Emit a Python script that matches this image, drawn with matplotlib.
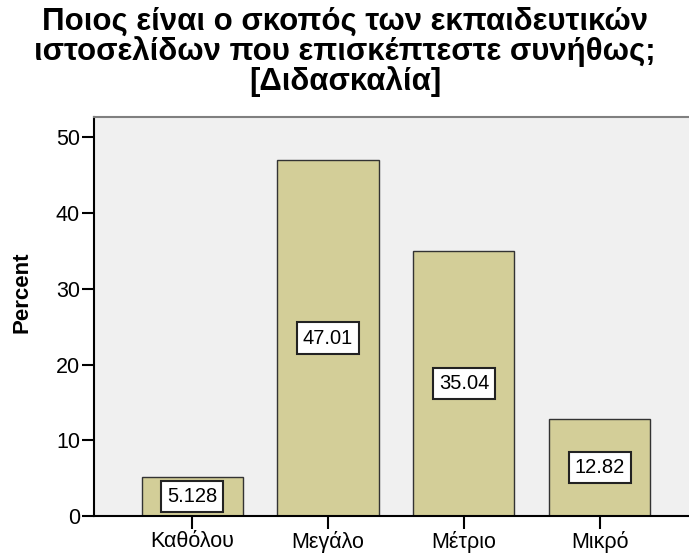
import matplotlib.pyplot as plt
import numpy as np

plt.rcParams['font.family'] = ['Liberation Sans', 'DejaVu Sans']

categories = ['Καθόλου', 'Μεγάλο', 'Μέτριο', 'Μικρό']
percent = [5.128, 47.01, 35.04, 12.82]
value_labels = ['5.128', '47.01', '35.04', '12.82']
title = 'Ποιος είναι ο σκοπός των εκπαιδευτικών\nιστοσελίδων που επισκέπτεστε συνήθως;\n[Διδασκαλία]'

fig = plt.figure(figsize=(6.89, 5.55), dpi=100)
W, H = 689, 555
ax = fig.add_axes([94 / W, 1 - 516 / H, (689 - 94) / W, (516 - 117) / H])
ax.set_facecolor('#f0f0f0')

x = np.arange(len(categories))
ax.bar(x, percent, width=0.744, color='#d3ce98', edgecolor='#333333', linewidth=1.0, zorder=2)
for xi, v, lab in zip(x, percent, value_labels):
    ax.text(xi, v / 2, lab, ha='center', va='center', fontsize=14.5, zorder=3,
            bbox=dict(boxstyle='square,pad=0.3', facecolor='white', edgecolor='#222222', linewidth=1.5))

ax.set_xlim(-0.722, 3.656)
ax.set_ylim(0, 52.7)
ax.set_yticks([0, 10, 20, 30, 40, 50])
ax.set_xticks(x)
ax.set_xticklabels(categories)
ax.tick_params(axis='y', length=9, width=1.5, labelsize=15.5, pad=1)
ax.tick_params(axis='x', length=9, width=1.5, labelsize=15.5, pad=2)
ax.spines['right'].set_visible(False)
ax.spines['top'].set_color('#808080')
ax.spines['top'].set_linewidth(1.5)
ax.spines['left'].set_linewidth(1.5)
ax.spines['bottom'].set_linewidth(1.5)
ax.set_ylabel('Percent', fontsize=16, fontweight='bold')
ax.yaxis.set_label_coords(-0.103, 0.56)

fig.text(345 / W, 1 - 7 / H, title, ha='center', va='top', fontsize=22.5, fontweight='bold',
         linespacing=0.97)

fig.savefig('out.png', dpi=100)
